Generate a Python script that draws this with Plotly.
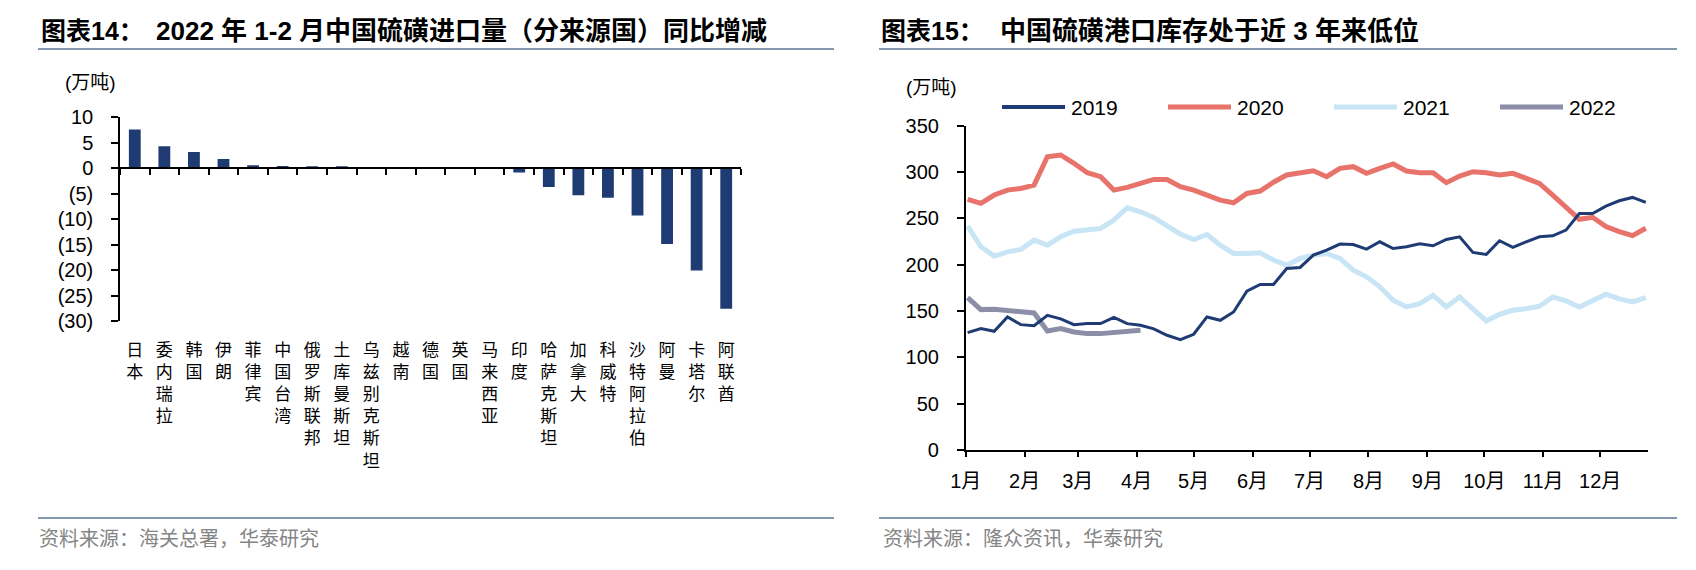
import plotly.graph_objects as go
import pandas as pd

W, H = 1696, 570

# ---------------- Left chart data ----------------
countries = ["日本", "委内瑞拉", "韩国", "伊朗", "菲律宾", "中国台湾", "俄罗斯联邦",
             "土库曼斯坦", "乌兹别克斯坦", "越南", "德国", "英国", "马来西亚", "印度",
             "哈萨克斯坦", "加拿大", "科威特", "沙特阿拉伯", "阿曼", "卡塔尔", "阿联酋"]
yoy_change = [7.6, 4.3, 3.2, 1.8, 0.6, 0.45, 0.35, 0.3, 0.0, 0.0, 0.0, 0.0, 0.0,
              -0.85, -3.7, -5.3, -5.8, -9.3, -14.9, -20.1, -27.6]
left_tick_vals = [10, 5, 0, -5, -10, -15, -20, -25, -30]
left_tick_text = ["10", "5", "0", "(5)", "(10)", "(15)", "(20)", "(25)", "(30)"]

# ---------------- Right chart data ----------------
week_dates = pd.date_range("2019-01-02", periods=52, freq="7D")
inv_2019 = [126.7, 131, 128.1, 143.6, 135.3, 134.2, 145.4, 141.5, 135.3, 136.4,
            136.4, 143.2, 136.4, 134.6, 130.7, 123.8, 119.1, 124.9, 143.6, 140,
            149, 171.4, 178.6, 178.6, 195.9, 197, 210.3, 215.7, 222.2, 221.8,
            216.8, 224.7, 217.5, 219.3, 222.5, 220.4, 227.2, 230.1, 213.2, 211,
            225.8, 218.6, 224.7, 230.1, 231.2, 237.3, 255.3, 255.3, 263.2, 269,
            272.6, 267.2]
inv_2020 = [270.5, 266.2, 275.2, 280.5, 282.3, 285.9, 316.5, 318.4, 309.4, 299.3,
            295, 280.5, 283.4, 287.7, 292, 292, 284.1, 280.5, 275.2, 269.7,
            266.8, 276.9, 279.5, 289, 296.8, 298.6, 301.4, 295, 304, 305.8,
            298.6, 304, 308.7, 301.1, 299.3, 299.3, 288.5, 295.7, 300.4, 299.3,
            296.8, 298.6, 293.2, 287.8, 275.2, 262.7, 249, 251.2, 241.1, 235.7,
            231.4, 239.3]
inv_2021 = [241.6, 219.3, 209.2, 213.9, 216.4, 226.5, 221.1, 230.1, 236.2, 238,
            239.1, 248.1, 261.4, 257.1, 251, 242, 233, 227.2, 232.6, 221.1,
            212.1, 212.1, 212.8, 205, 199.5, 206.7, 210.3, 212.1, 206.7, 194.1,
            186.9, 176.1, 161.6, 154.4, 158, 167, 154.4, 165.2, 152.6, 139.3,
            146.5, 150.8, 152.6, 155.1, 165.2, 160.9, 154.4, 160.9, 168.1, 163.1,
            159.8, 164.5]
inv_2022 = [164.5, 151.5, 151.9, 150.8, 149, 147.9, 128.5, 131, 127.4, 125.6,
            125.6, 126.7, 127.4, 129.2]
series_names = ["2019", "2020", "2021", "2022"]
series_values = [inv_2019, inv_2020, inv_2021, inv_2022]
series_colors = ["#1f3b73", "#e8736b", "#c8e5f5", "#8c8ea8"]
series_widths = [3, 5, 5, 5]
right_tick_vals = [0, 50, 100, 150, 200, 250, 300, 350]


def X(px):
    return px / W


def Y(py):
    return 1 - py / H


NUM_FONT = "Liberation Sans, Arial, Noto Sans CJK SC"
CJK_FONT = "Noto Sans CJK SC, Liberation Sans"
NAVY = "#1f3b73"

fig = go.Figure()

# ---- left bars ----
fig.add_trace(go.Bar(
    x=countries, y=yoy_change, marker=dict(color=NAVY, line=dict(width=0)),
    xaxis="x", yaxis="y", showlegend=False, hoverinfo="x+y"))
# invisible helper trace for the zero-line axis with boundary ticks
fig.add_trace(go.Scatter(
    x=countries, y=[0] * len(countries), mode="markers",
    marker=dict(opacity=0), xaxis="x2", yaxis="y", showlegend=False,
    hoverinfo="skip"))

# ---- right lines (2019 drawn last so the thin line sits on top) ----
draw_order = [1, 2, 3, 0]
for i in draw_order:
    vals = series_values[i]
    fig.add_trace(go.Scatter(
        x=week_dates[:len(vals)], y=vals, mode="lines", name=series_names[i],
        line=dict(color=series_colors[i], width=series_widths[i]),
        xaxis="x3", yaxis="y3", showlegend=False))

left_ydom = [Y(321), Y(117.3)]
left_yrange = [-30, 10]
zero_pos = left_ydom[0] + (0 - left_yrange[0]) / (left_yrange[1] - left_yrange[0]) * (left_ydom[1] - left_ydom[0])

fig.update_layout(
    template="none",
    width=W, height=H,
    margin=dict(l=0, r=0, t=0, b=0, pad=0, autoexpand=False),
    paper_bgcolor="white", plot_bgcolor="white",
    showlegend=False,
    bargap=0.6,
    xaxis=dict(
        domain=[X(120), X(741)], type="category", categoryorder="array",
        categoryarray=countries, range=[-0.5, len(countries) - 0.5],
        tickmode="array", tickvals=countries,
        ticktext=["<br>".join(list(c)) for c in countries],
        showline=False, ticks="", showgrid=False, zeroline=False,
        tickfont=dict(family=CJK_FONT, size=17, color="black"),
        ticklabelstandoff=17, anchor="y", automargin=False),
    xaxis2=dict(
        type="category", categoryorder="array", categoryarray=countries,
        range=[-0.5, len(countries) - 0.5], overlaying="x", anchor="free",
        position=zero_pos, showline=True, linecolor="black", linewidth=1.5,
        ticks="outside", tickson="boundaries", ticklen=6, tickwidth=1.5,
        tickcolor="black", showticklabels=False, showgrid=False, zeroline=False,
        automargin=False),
    yaxis=dict(
        domain=left_ydom, range=left_yrange, tickmode="array",
        tickvals=left_tick_vals, ticktext=left_tick_text,
        showline=True, linecolor="black", linewidth=1.5, ticks="outside",
        ticklen=7, tickwidth=1.5, tickcolor="black", showgrid=False,
        zeroline=False, ticklabelstandoff=14,
        tickfont=dict(family=NUM_FONT, size=20, color="black"), anchor="x",
        automargin=False),
    xaxis3=dict(
        domain=[X(965.7), X(1647.7)], type="date",
        range=["2019-01-01", "2019-12-26"], tick0="2019-01-01", dtick="M1",
        tickformat="%-m月", showline=True, linecolor="black", linewidth=1.5,
        ticks="outside", ticklen=5, tickwidth=1.5, tickcolor="black",
        showgrid=False, zeroline=False, ticklabelstandoff=7,
        tickfont=dict(family=NUM_FONT, size=20, color="black"), anchor="y3",
        automargin=False),
    yaxis3=dict(
        domain=[Y(450), Y(125.7)], range=[0, 350], tickmode="array",
        tickvals=right_tick_vals, showline=True, linecolor="black", linewidth=1.5,
        ticks="outside", ticklen=7, tickwidth=1.5, tickcolor="black",
        showgrid=False, zeroline=False, ticklabelstandoff=14,
        tickfont=dict(family=NUM_FONT, size=20, color="black"), anchor="x3",
        automargin=False),
)

annotations = []
shapes = []


def add_text(x, y, text, size, color="black", family=CJK_FONT, xanchor="left", bold=False):
    if bold:
        text = "<b>" + text + "</b>"
    annotations.append(dict(
        x=X(x), y=Y(y), xref="paper", yref="paper", text=text, showarrow=False,
        xanchor=xanchor, yanchor="middle", borderpad=0,
        font=dict(family=family, size=size, color=color)))


# titles
add_text(40, 31, "图表14：", 25, family=NUM_FONT, bold=True)
add_text(155, 31, "2022 年 1-2 月中国硫磺进口量（分来源国）同比增减", 26, family=NUM_FONT, bold=True)
add_text(880, 31, "图表15：", 25, family=NUM_FONT, bold=True)
add_text(999, 31, "中国硫磺港口库存处于近 3 年来低位", 26, family=NUM_FONT, bold=True)

# unit labels
add_text(64, 82, "(万吨)", 19, family=NUM_FONT)
add_text(905, 87, "(万吨)", 19, family=NUM_FONT)

# footers
add_text(38, 537, "资料来源：海关总署，华泰研究", 20, color="#858585")
add_text(882, 537, "资料来源：隆众资讯，华泰研究", 20, color="#858585")

# separator lines
for x0, x1 in [(38, 834), (879, 1677)]:
    for yy in [49, 518]:
        shapes.append(dict(type="line", xref="paper", yref="paper",
                           x0=X(x0), x1=X(x1), y0=Y(yy), y1=Y(yy),
                           line=dict(color="#8497b0", width=2)))

# custom legend for the right chart
leg_x0, leg_step, leg_len, leg_y = 1002, 166, 63, 107
for i, (name, col) in enumerate(zip(series_names, series_colors)):
    lx = leg_x0 + i * leg_step
    shapes.append(dict(type="line", xref="paper", yref="paper",
                       x0=X(lx), x1=X(lx + leg_len), y0=Y(leg_y), y1=Y(leg_y),
                       line=dict(color=col, width=4 if i == 0 else 5)))
    add_text(lx + leg_len + 5, leg_y, name, 21, family=NUM_FONT)

fig.update_layout(annotations=annotations, shapes=shapes)

fig.write_html("out.html",
               config={"displayModeBar": False},
               post_script="document.body.style.margin='0';document.body.style.overflow='hidden';")
